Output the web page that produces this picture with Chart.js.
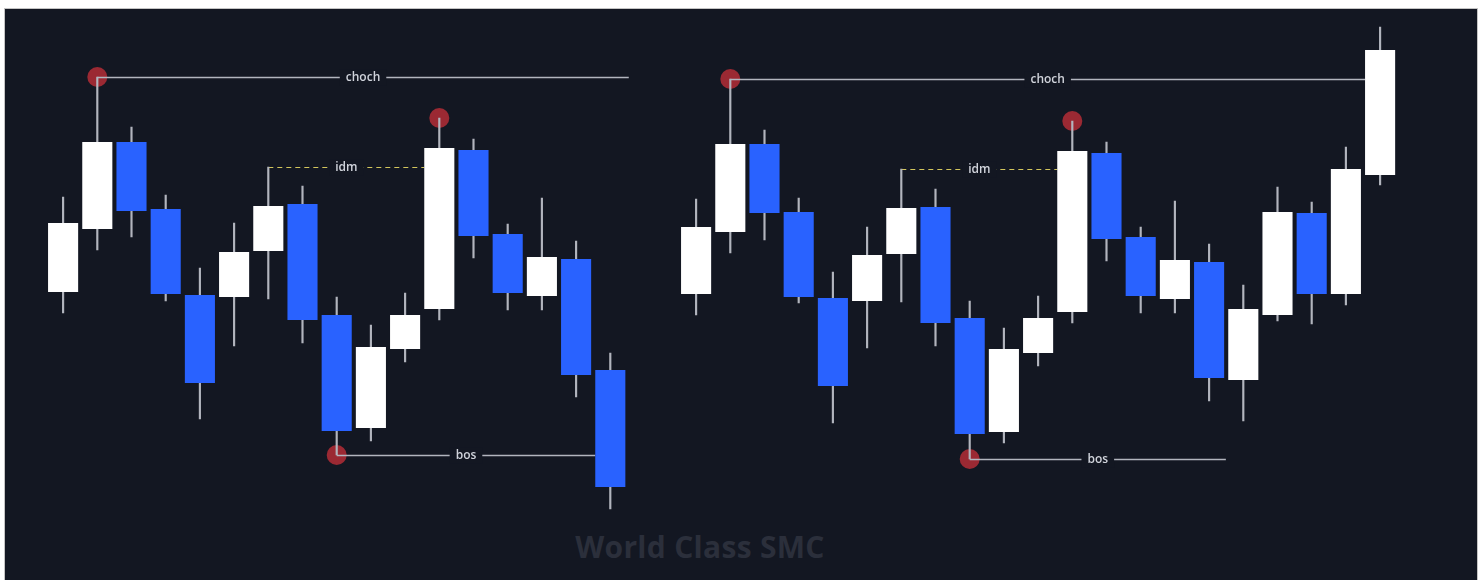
<!DOCTYPE html>
<html>
<head>
<meta charset="utf-8">
<script src="https://cdn.jsdelivr.net/npm/chart.js@4/dist/chart.umd.min.js"></script>
<style>
  body { margin: 0; background: #ffffff; width: 1484px; height: 580px; overflow: hidden; position: relative; }
  #panel { position: absolute; left: 4px; top: 8px; width: 1472px; height: 572px; background: #131722;
           border-top: 1px solid #c4c4c4; border-left: 1px solid #c4c4c4; border-right: 1px solid #c4c4c4; }
  #mark { position: absolute; left: 500px; width: 400px; top: 526px; text-align: center;
          font: bold 30px "Open Sans", sans-serif; color: #2b2f3b; letter-spacing: 0.3px; }
  canvas { position: absolute; top: 9px; }
  #left { left: 20px; }
  #right { left: 660px; }
</style>
</head>
<body>
<div id="panel"></div>
<div id="mark">World Class SMC</div>
<canvas id="left" width="640" height="571"></canvas>
<canvas id="right" width="760" height="571"></canvas>
<script>
// left structure: 17 candles
var leftLabels = ['1','2','3','4','5','6','7','8','9','10','11','12','13','14','15','16','17'];
var leftOpen  = [308, 371, 458, 391, 305, 303, 349, 396, 285, 172, 251, 291, 450, 366, 304, 341, 230];
var leftHigh  = [403, 523, 473, 405, 332, 377, 433, 414, 303, 275, 307, 482, 461, 376, 402, 359, 247];
var leftLow   = [287, 350, 363, 299, 181, 254, 301, 257, 145, 159, 238, 280, 342, 290, 290, 203, 91];
var leftClose = [377, 458, 389, 306, 217, 348, 394, 280, 169, 253, 285, 452, 364, 307, 343, 225, 113];

// right structure: 21 candles
var rightLabels = ['1','2','3','4','5','6','7','8','9','10','11','12','13','14','15','16','17','18','19','20','21'];
var rightOpen  = [306, 368, 456, 388, 302, 299, 346, 393, 282, 168, 247, 288, 447, 363, 301, 338, 220, 285, 387, 306, 425];
var rightHigh  = [401, 521, 470, 402, 328, 373, 431, 411, 299, 272, 304, 479, 458, 373, 399, 356, 315, 413, 398, 453, 573];
var rightLow   = [285, 347, 360, 297, 177, 252, 298, 254, 141, 157, 234, 277, 339, 287, 287, 199, 179, 279, 276, 295, 415];
var rightClose = [373, 456, 387, 303, 214, 345, 392, 277, 166, 251, 282, 449, 361, 304, 340, 222, 291, 388, 306, 431, 550];

// structure levels: candle index it starts from, index where it ends
var leftLevels = [
  { name: 'choch', from: 1, to: 16.54, price: leftHigh[1] },
  { name: 'idm', from: 6, to: 10.56, price: leftHigh[6], dashed: true },
  { name: 'bos', from: 8, to: 15.56, price: leftLow[8] }
];
var leftDots = [
  { i: 1, price: leftHigh[1] },
  { i: 11, price: leftHigh[11] },
  { i: 8, price: leftLow[8] }
];
var rightLevels = [
  { name: 'choch', from: 1, to: 19.56, price: rightHigh[1] },
  { name: 'idm', from: 6, to: 10.56, price: rightHigh[6], dashed: true },
  { name: 'bos', from: 8, to: 15.49, price: rightLow[8] }
];
var rightDots = [
  { i: 1, price: rightHigh[1] },
  { i: 11, price: rightHigh[11] },
  { i: 8, price: rightLow[8] }
];

var BG = '#131722';

var levelPlugin = {
  id: 'levels',
  beforeDatasetsDraw: function(chart, args, opts) {
    var ctx = chart.ctx;
    var xs = chart.scales.x, ys = chart.scales.y;
    ctx.save();
    opts.dots.forEach(function(d) {
      ctx.beginPath();
      ctx.arc(xs.getPixelForValue(d.i), ys.getPixelForValue(d.price), 10, 0, Math.PI * 2);
      ctx.fillStyle = '#9b2933';
      ctx.fill();
    });
    opts.levels.forEach(function(l) {
      var x1 = xs.getPixelForValue(l.from);
      var x2 = xs.getPixelForValue(l.to);
      var y = Math.round(ys.getPixelForValue(l.price)) + 0.5;
      ctx.beginPath();
      ctx.moveTo(x1, y);
      ctx.lineTo(x2, y);
      if (l.dashed) {
        ctx.setLineDash([5, 4]);
        ctx.strokeStyle = '#d3c65c';
        ctx.lineWidth = 1;
      } else {
        ctx.setLineDash([]);
        ctx.strokeStyle = '#b2b5be';
        ctx.lineWidth = 1.5;
      }
      ctx.stroke();
      ctx.setLineDash([]);
      ctx.font = '600 12px "Open Sans"';
      var w = ctx.measureText(l.name).width;
      var mid = (x1 + x2) / 2;
      ctx.fillStyle = BG;
      ctx.fillRect(mid - w / 2 - 6, y - 8, w + 12, 16);
      ctx.fillStyle = '#d1d4dc';
      ctx.textAlign = 'center';
      ctx.textBaseline = 'middle';
      ctx.fillText(l.name, mid, y);
    });
    ctx.restore();
  }
};

function makeChart(id, labels, open, high, low, close, levels, dots, padL, padR) {
  var wicks = [], bodies = [], colors = [];
  for (var i = 0; i < labels.length; i++) {
    wicks.push([low[i], high[i]]);
    bodies.push([open[i], close[i]]);
    colors.push(close[i] >= open[i] ? '#ffffff' : '#2962ff');
  }
  return new Chart(document.getElementById(id).getContext('2d'), {
    type: 'bar',
    data: {
      labels: labels,
      datasets: [{
        label: 'wick',
        data: wicks,
        backgroundColor: '#b2b5be',
        barThickness: 1.5,
        grouped: false,
        order: 2
      }, {
        label: 'body',
        data: bodies,
        backgroundColor: colors,
        barPercentage: 0.88,
        categoryPercentage: 1,
        grouped: false,
        order: 1
      }]
    },
    options: {
      responsive: false,
      animation: false,
      layout: { padding: { left: padL, right: padR, top: 0, bottom: 0 } },
      scales: {
        x: { display: false, offset: true },
        y: { display: false, min: 20, max: 591 }
      },
      plugins: {
        legend: { display: false },
        tooltip: { enabled: false },
        levels: { levels: levels, dots: dots }
      }
    },
    plugins: [levelPlugin]
  });
}

makeChart('left', leftLabels, leftOpen, leftHigh, leftLow, leftClose, leftLevels, leftDots, 26, 32.6);
makeChart('right', rightLabels, rightOpen, rightHigh, rightLow, rightClose, rightLevels, rightDots, 19, 22.8);
</script>
</body>
</html>
